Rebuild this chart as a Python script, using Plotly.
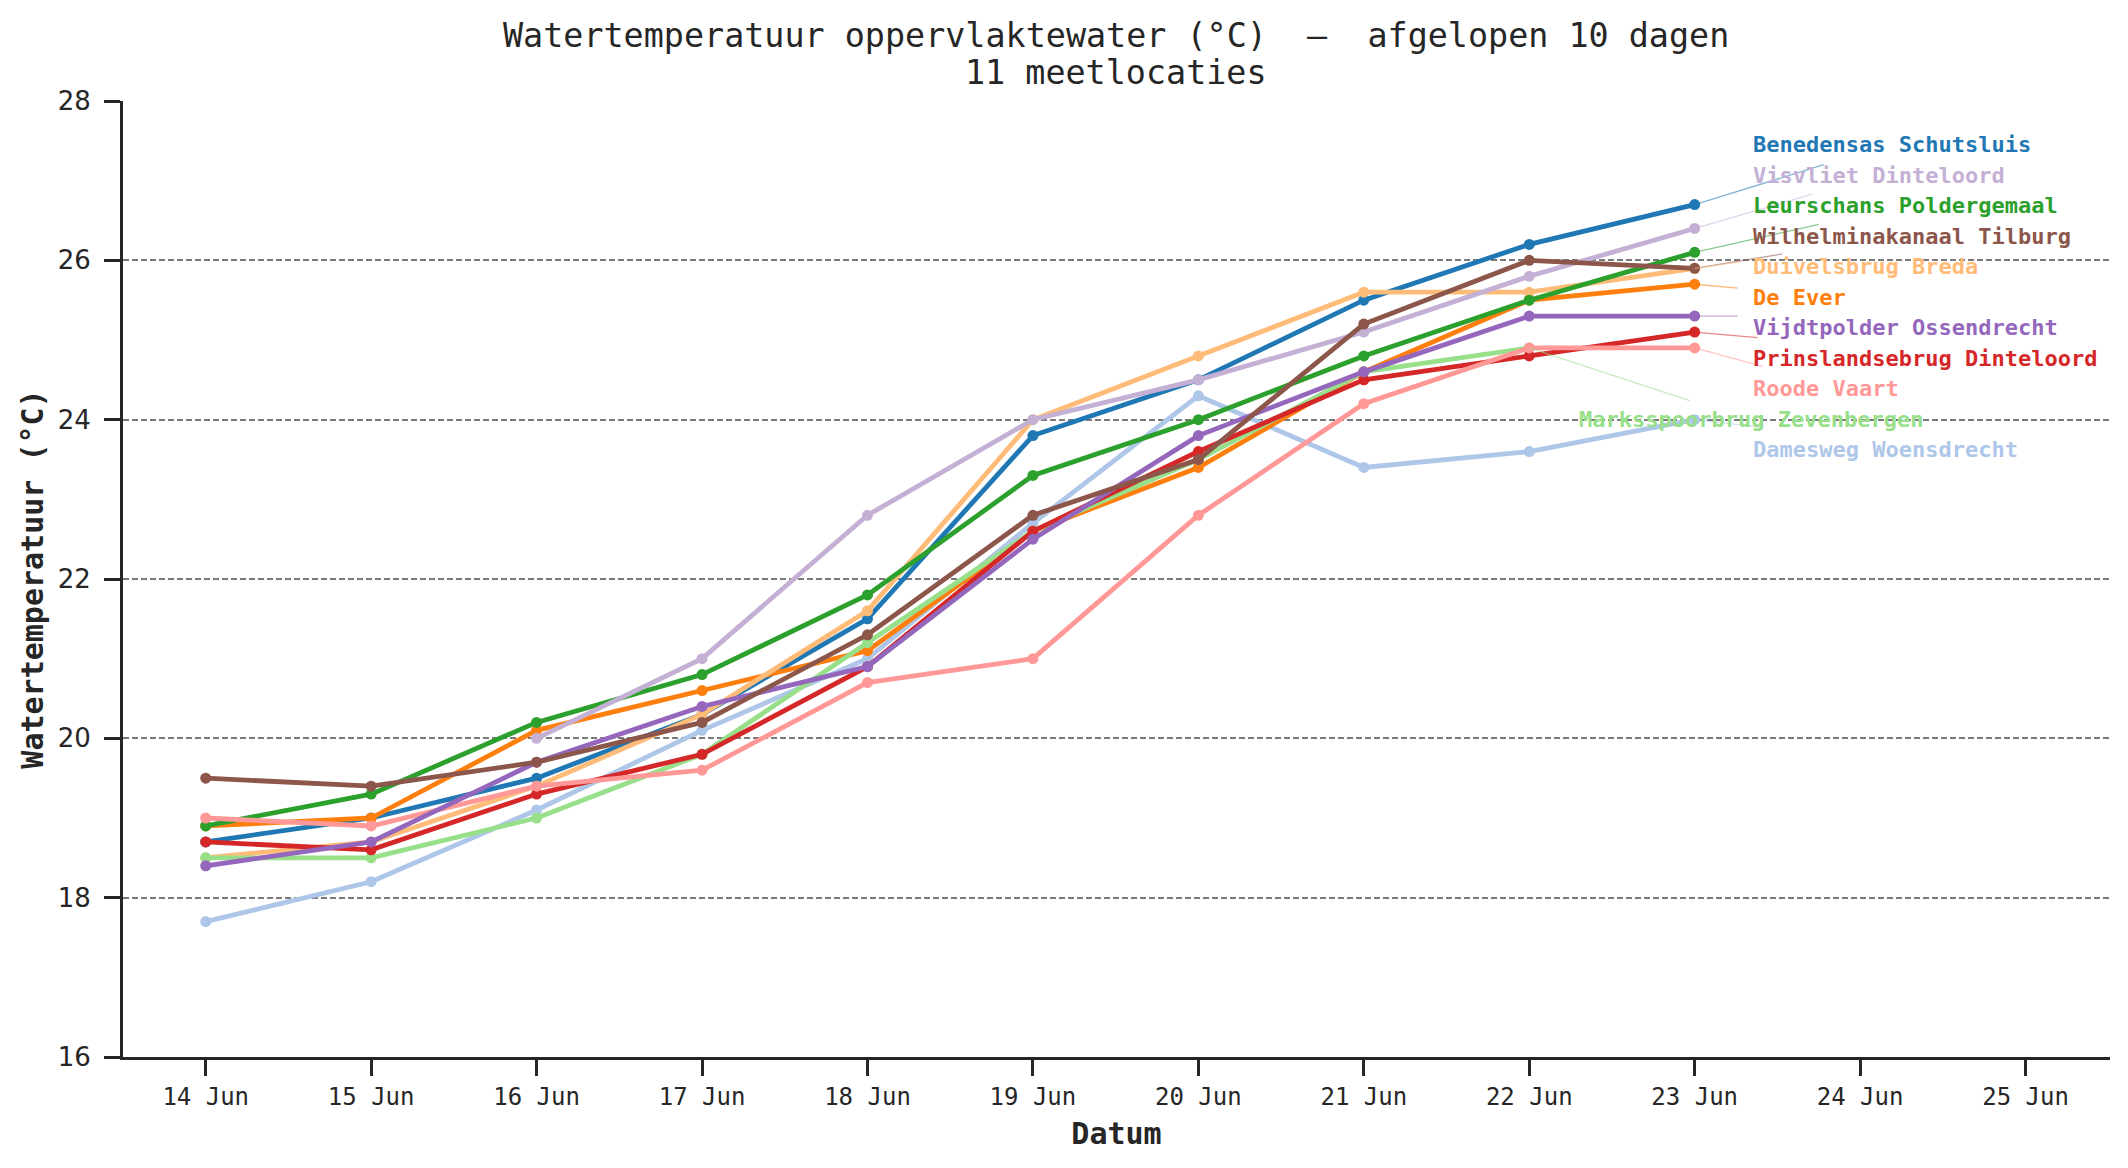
import pandas as pd
import plotly.graph_objects as go

# ---------------- data ----------------
dates = ["2025-06-14", "2025-06-15", "2025-06-16", "2025-06-17", "2025-06-18",
         "2025-06-19", "2025-06-20", "2025-06-21", "2025-06-22", "2025-06-23"]

stations = ["Benedensas Schutsluis", "Damesweg Woensdrecht", "De Ever", "Duivelsbrug Breda",
            "Leurschans Poldergemaal", "Marksspoorbrug Zevenbergen", "Prinslandsebrug Dinteloord",
            "Roode Vaart", "Vijdtpolder Ossendrecht", "Visvliet Dinteloord", "Wilhelminakanaal Tilburg"]

benedensas = [18.7, 19.0, 19.5, 20.3, 21.5, 23.8, 24.5, 25.5, 26.2, 26.7]
damesweg = [17.7, 18.2, 19.1, 20.1, 21.0, 22.7, 24.3, 23.4, 23.6, 24.0]
de_ever = [18.9, 19.0, 20.1, 20.6, 21.1, 22.6, 23.4, 24.6, 25.5, 25.7]
duivelsbrug = [18.5, 18.7, 19.4, 20.3, 21.6, 24.0, 24.8, 25.6, 25.6, 25.9]
leurschans = [18.9, 19.3, 20.2, 20.8, 21.8, 23.3, 24.0, 24.8, 25.5, 26.1]
marksspoorbrug = [18.5, 18.5, 19.0, 19.8, 21.2, 22.6, 23.5, 24.6, 24.9, None]
prinslandsebrug = [18.7, 18.6, 19.3, 19.8, 20.9, 22.6, 23.6, 24.5, 24.8, 25.1]
roode_vaart = [19.0, 18.9, 19.4, 19.6, 20.7, 21.0, 22.8, 24.2, 24.9, 24.9]
vijdtpolder = [18.4, 18.7, 19.7, 20.4, 20.9, 22.5, 23.8, 24.6, 25.3, 25.3]
visvliet = [None, None, 20.0, 21.0, 22.8, 24.0, 24.5, 25.1, 25.8, 26.4]
wilhelmina = [19.5, 19.4, 19.7, 20.2, 21.3, 22.8, 23.5, 25.2, 26.0, 25.9]

series = [benedensas, damesweg, de_ever, duivelsbrug, leurschans, marksspoorbrug,
          prinslandsebrug, roode_vaart, vijdtpolder, visvliet, wilhelmina]

colors = ["#1f77b4", "#aec7e8", "#ff7f0e", "#ffbb78", "#2ca02c", "#98df8a",
          "#d62728", "#ff9896", "#9467bd", "#c5b0d5", "#8c564b"]

# label order on the right (top to bottom)
label_order = ["Benedensas Schutsluis", "Visvliet Dinteloord", "Leurschans Poldergemaal",
               "Wilhelminakanaal Tilburg", "Duivelsbrug Breda", "De Ever",
               "Vijdtpolder Ossendrecht", "Prinslandsebrug Dinteloord", "Roode Vaart",
               "Marksspoorbrug Zevenbergen", "Damesweg Woensdrecht"]
label_top = 27.45
label_step = 0.383
# leader-line end points (days after first date, value) per label
leader_end_day = [9.78, 9.71, 9.75, 9.53, 9.27, 9.26, 9.26, 9.38, 9.41, 8.97, 9.42]
leader_end_val = [27.20, 26.83, 26.45, 26.08, 25.98, 25.65, 25.30, 25.03, 24.67, 24.24, 23.90]

y_ticks = [16, 18, 20, 22, 24, 26, 28]

title_line1 = "Watertemperatuur oppervlaktewater (°C)\u00a0\u00a0–\u00a0\u00a0afgelopen 10 dagen"
title_line2 = "11 meetlocaties"

INK = "#262626"
MONO = "DejaVu Sans Mono"

fig = go.Figure()

t0 = pd.Timestamp(dates[0])
for name, vals, col in zip(stations, series, colors):
    fig.add_trace(go.Scatter(
        x=dates, y=vals, mode="lines+markers", name=name,
        line=dict(color=col, width=4.8),
        marker=dict(color=col, size=11),
        connectgaps=False, showlegend=False,
    ))

label_x = t0 + pd.Timedelta(days=9.34)
for k, name in enumerate(label_order):
    i = stations.index(name)
    col = colors[i]
    vals = series[i]
    last = max(j for j, v in enumerate(vals) if v is not None)
    ly = label_top - k * label_step
    # leader line
    fig.add_shape(type="line", xref="x", yref="y",
                  x0=dates[last], y0=vals[last],
                  x1=(t0 + pd.Timedelta(days=leader_end_day[k])).isoformat(),
                  y1=leader_end_val[k],
                  line=dict(color=col, width=1.3), opacity=0.55)
    centered = name == "Marksspoorbrug Zevenbergen"
    fig.add_annotation(
        x=label_x.isoformat(), y=ly, xref="x", yref="y",
        text="<b>" + name + "</b>", showarrow=False,
        xanchor="center" if centered else "left", yanchor="middle",
        font=dict(family=MONO, size=22, color=col),
    )

# two-line title
fig.add_annotation(x=0.4995, y=1.0690, xref="paper", yref="paper", text=title_line1,
                   showarrow=False, xanchor="center", yanchor="middle",
                   font=dict(family=MONO, size=33.4, color=INK))
fig.add_annotation(x=0.4995, y=1.0303, xref="paper", yref="paper", text=title_line2,
                   showarrow=False, xanchor="center", yanchor="middle",
                   font=dict(family=MONO, size=33.4, color=INK))

fig.update_layout(
    width=2128, height=1168,
    paper_bgcolor="white", plot_bgcolor="white",
    margin=dict(l=115, r=26, t=93, b=119, autoexpand=False),
    xaxis=dict(
        type="date",
        range=["2025-06-13 12:00", "2025-06-25 12:15"],
        tick0="2025-06-14", dtick=86400000, tickformat="%d %b",
        showgrid=False, zeroline=False,
        showline=True, linecolor=INK, linewidth=3,
        ticks="outside", ticklen=16, tickwidth=3, tickcolor=INK,
        tickfont=dict(family=MONO, size=24, color=INK),
        ticklabelstandoff=0,
        title=dict(text="<b>Datum</b>", font=dict(family=MONO, size=30, color=INK), standoff=14),
    ),
    yaxis=dict(
        range=[16, 28], tickvals=y_ticks,
        showgrid=True, gridcolor="#7a7a7a", gridwidth=1.5, griddash="6px,3px",
        zeroline=False,
        showline=True, linecolor=INK, linewidth=3,
        ticks="outside", ticklen=16, tickwidth=3, tickcolor=INK,
        tickfont=dict(family="DejaVu Sans", size=26, color=INK),
        ticklabelstandoff=8,
        title=dict(text="<b>Watertemperatuur (°C)</b>", font=dict(family=MONO, size=30, color=INK), standoff=6),
    ),
)

fig.write_html("out.html")
